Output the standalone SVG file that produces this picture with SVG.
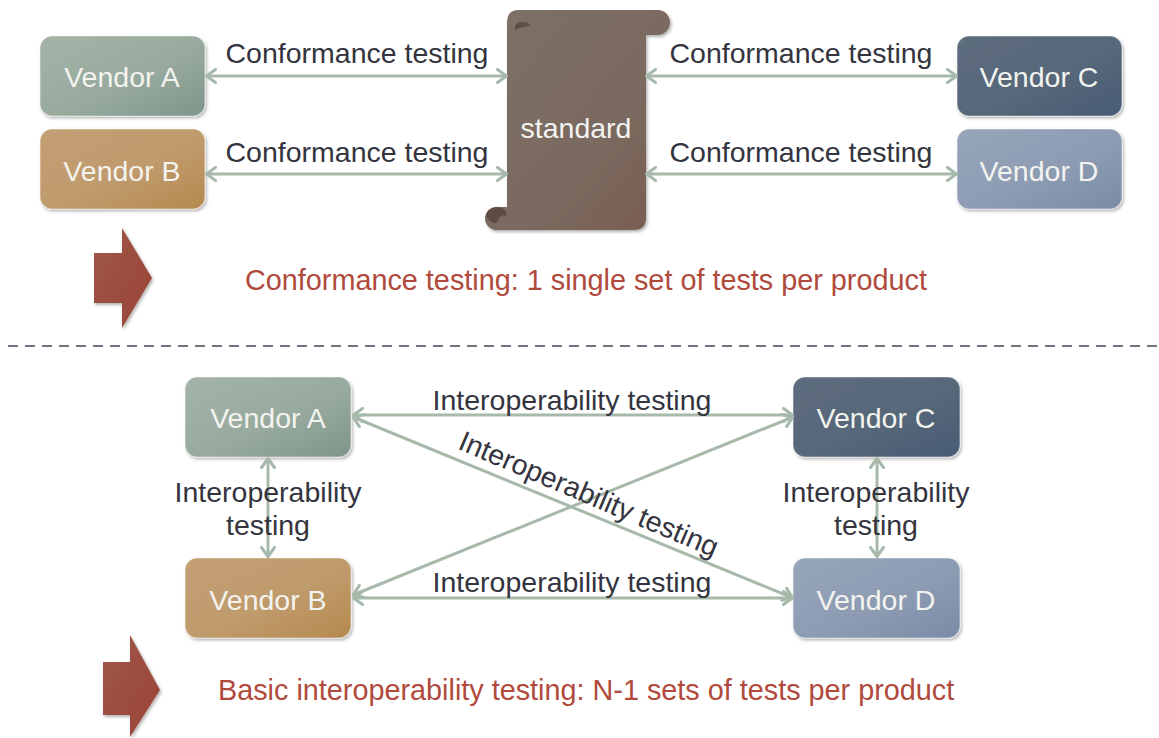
<svg xmlns="http://www.w3.org/2000/svg" width="1159" height="738" viewBox="0 0 1159 738">
  <defs>
    <style>
      .vendor-label { font-family: "Liberation Sans", Arial, sans-serif; font-size: 28.5px; fill: #f3f3ef; text-anchor: middle; }
      .edge-label { font-family: "Liberation Sans", Arial, sans-serif; font-size: 28.5px; fill: #34343e; text-anchor: middle; }
      .note { font-family: "Liberation Sans", Arial, sans-serif; font-size: 28.8px; fill: #b04a3c; }
      .link { stroke: #a6b9aa; stroke-width: 3; fill: none; marker-start: url(#chevron); marker-end: url(#chevron); }
      .box { stroke: rgba(255,255,255,0.45); stroke-width: 1.2; filter: url(#shadow); }
    </style>
    <marker id="chevron" viewBox="0 0 12 16" refX="11" refY="8" markerWidth="12" markerHeight="16" markerUnits="userSpaceOnUse" orient="auto-start-reverse">
      <path d="M1.5,1.5 L10.5,8 L1.5,14.5" fill="none" stroke="#a6b9aa" stroke-width="3" stroke-linecap="round" stroke-linejoin="round"/>
    </marker>
    <filter id="shadow" x="-10%" y="-10%" width="125%" height="130%">
      <feDropShadow dx="1.5" dy="2" stdDeviation="1.8" flood-color="#000" flood-opacity="0.3"/>
    </filter>
    <linearGradient id="gA" x1="0" y1="0" x2="1" y2="1">
      <stop offset="0" stop-color="#a3b3a8"/>
      <stop offset="0.55" stop-color="#98aa9e"/>
      <stop offset="1" stop-color="#7f958a"/>
    </linearGradient>
    <linearGradient id="gB" x1="0" y1="0" x2="1" y2="1">
      <stop offset="0" stop-color="#c49f74"/>
      <stop offset="0.55" stop-color="#bf9a6c"/>
      <stop offset="1" stop-color="#b68a4e"/>
    </linearGradient>
    <linearGradient id="gC" x1="0" y1="0" x2="1" y2="1">
      <stop offset="0" stop-color="#5e6d7e"/>
      <stop offset="0.55" stop-color="#566779"/>
      <stop offset="1" stop-color="#485c74"/>
    </linearGradient>
    <linearGradient id="gD" x1="0" y1="0" x2="1" y2="1">
      <stop offset="0" stop-color="#97a5ba"/>
      <stop offset="0.55" stop-color="#8d9cb3"/>
      <stop offset="1" stop-color="#7a8ba6"/>
    </linearGradient>
    <linearGradient id="gScroll" x1="0" y1="0" x2="1" y2="1">
      <stop offset="0" stop-color="#7e7066"/>
      <stop offset="0.6" stop-color="#7a6a60"/>
      <stop offset="1" stop-color="#7a5c4d"/>
    </linearGradient>
    <linearGradient id="gArrow" x1="0" y1="0" x2="1" y2="1">
      <stop offset="0" stop-color="#9e5749"/>
      <stop offset="1" stop-color="#9a4536"/>
    </linearGradient>
  </defs>

  <rect width="1159" height="738" fill="#ffffff"/>

  <!-- Upper section: conformance testing against the standard -->
  <g id="standard">
    <path d="M519,10 L658,10 A12,12.5 0 0 1 658,35 L646,35 L646,218 Q646,230 634,230 L497,230 A12,11.5 0 0 1 497,207 L507,207 L507,22 Q507,10 519,10 Z" fill="url(#gScroll)" filter="url(#shadow)"/>
    <path d="M515,30 Q514,22 522,22 Q530,22 530,26 Q524,26 515,30 Z" fill="#5f4e45"/>
    <path d="M486,217 Q487,207 497,207 Q507,208 507,216 Q500,214 498,220 Q496,228 486,217 Z" fill="#5e4b42"/>
    <text x="576" y="138" class="vendor-label" style="font-size:28.5px">standard</text>
  </g>

  <g id="top-vendor-a">
    <rect x="40" y="36" width="165" height="80" rx="12" fill="url(#gA)" class="box"/>
    <text x="122" y="87" class="vendor-label">Vendor A</text>
  </g>
  <g id="top-vendor-b">
    <rect x="40" y="129" width="165" height="80" rx="12" fill="url(#gB)" class="box"/>
    <text x="122" y="181" class="vendor-label">Vendor B</text>
  </g>
  <g id="top-vendor-c">
    <rect x="957" y="36" width="165" height="80" rx="12" fill="url(#gC)" class="box"/>
    <text x="1039" y="87" class="vendor-label">Vendor C</text>
  </g>
  <g id="top-vendor-d">
    <rect x="957" y="129" width="165" height="80" rx="12" fill="url(#gD)" class="box"/>
    <text x="1039" y="181" class="vendor-label">Vendor D</text>
  </g>

  <g id="top-connectors">
    <line x1="206" y1="76" x2="507" y2="76" class="link"/>
    <line x1="206" y1="174" x2="507" y2="174" class="link"/>
    <line x1="646" y1="76" x2="957" y2="76" class="link"/>
    <line x1="646" y1="174" x2="957" y2="174" class="link"/>
    <text x="357" y="63" class="edge-label">Conformance testing</text>
    <text x="357" y="162" class="edge-label">Conformance testing</text>
    <text x="801" y="63" class="edge-label">Conformance testing</text>
    <text x="801" y="162" class="edge-label">Conformance testing</text>
  </g>

  <g id="top-summary">
    <polygon points="94,253 122,253 122,228 152,278 122,328 122,303 94,303" fill="url(#gArrow)" filter="url(#shadow)"/>
    <text x="245" y="290" class="note">Conformance testing: 1 single set of tests per product</text>
  </g>

  <!-- Section divider -->
  <line x1="8" y1="346" x2="1159" y2="346" stroke="#6e7480" stroke-width="2.2" stroke-dasharray="10 7"/>

  <!-- Lower section: pairwise interoperability testing -->
  <g id="vendor-a">
    <rect x="185" y="377" width="166" height="80" rx="12" fill="url(#gA)" class="box"/>
    <text x="268" y="428" class="vendor-label">Vendor A</text>
  </g>
  <g id="vendor-b">
    <rect x="185" y="558" width="166" height="80" rx="12" fill="url(#gB)" class="box"/>
    <text x="268" y="610" class="vendor-label">Vendor B</text>
  </g>
  <g id="vendor-c">
    <rect x="793" y="377" width="167" height="80" rx="12" fill="url(#gC)" class="box"/>
    <text x="876" y="428" class="vendor-label">Vendor C</text>
  </g>
  <g id="vendor-d">
    <rect x="793" y="558" width="167" height="80" rx="12" fill="url(#gD)" class="box"/>
    <text x="876" y="610" class="vendor-label">Vendor D</text>
  </g>

  <g id="connectors">
    <line x1="353" y1="415" x2="793" y2="415" class="link"/>
    <line x1="353" y1="598" x2="793" y2="598" class="link"/>
    <line x1="353" y1="417" x2="793" y2="598" class="link"/>
    <line x1="353" y1="595" x2="793" y2="417" class="link"/>
    <line x1="268" y1="458" x2="268" y2="557" class="link"/>
    <line x1="877" y1="458" x2="877" y2="557" class="link"/>
    <text x="572" y="410" class="edge-label">Interoperability testing</text>
    <text x="572" y="592" class="edge-label">Interoperability testing</text>
    <text transform="translate(585,503) rotate(23)" class="edge-label">Interoperability testing</text>
    <text x="268" y="502" class="edge-label">Interoperability</text>
    <text x="268" y="535" class="edge-label">testing</text>
    <text x="876" y="502" class="edge-label">Interoperability</text>
    <text x="876" y="535" class="edge-label">testing</text>
  </g>

  <g id="bottom-summary">
    <polygon points="103,662 130,662 130,635 160,690 130,737 130,715 103,715" fill="url(#gArrow)" filter="url(#shadow)"/>
    <text x="218" y="700" class="note">Basic interoperability testing: N-1 sets of tests per product</text>
  </g>
</svg>
